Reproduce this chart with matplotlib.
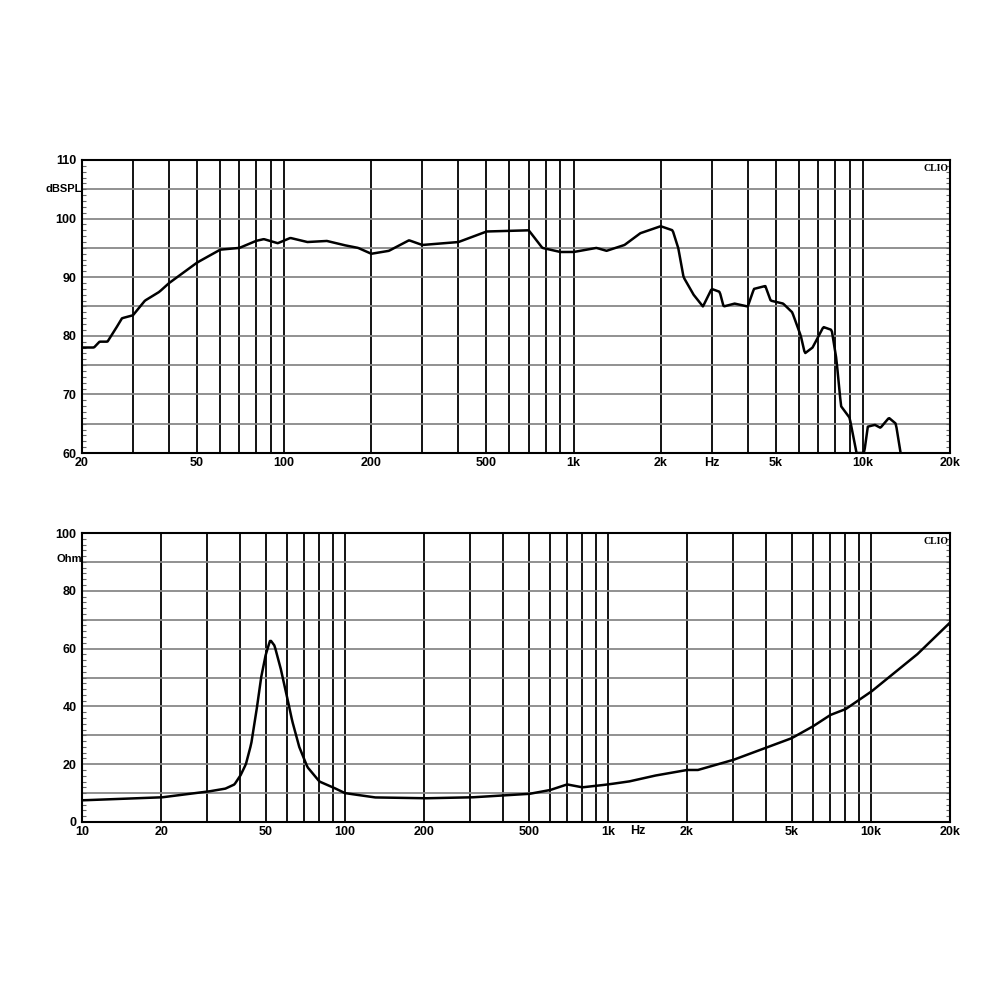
import numpy as np
import matplotlib.pyplot as plt
from matplotlib.ticker import FixedLocator, MultipleLocator

# SPL response (Hz, dB)
spl_f = [20, 22, 23, 24.5, 26, 27.5, 30, 33, 37, 40, 50, 60, 70, 80, 85, 95, 105, 120, 140,
         160, 180, 200, 230, 270, 300, 400, 500, 700, 780, 900, 1000, 1200, 1300, 1500, 1700,
         2000, 2200, 2300, 2400, 2600, 2800, 3000, 3200, 3300, 3600, 4000, 4200, 4600, 4800,
         5000, 5300, 5700, 6100, 6300, 6700, 7300, 7800, 8100, 8400, 9000, 9500, 10100, 10400,
         11000, 11500, 12300, 13000, 13500]
spl_db = [78, 78, 79, 79, 81, 83, 83.5, 86, 87.5, 89, 92.5, 94.7, 95, 96.2, 96.5, 95.8, 96.7,
          96, 96.2, 95.5, 95, 94, 94.5, 96.3, 95.5, 96, 97.8, 98, 95, 94.3, 94.3, 95, 94.5, 95.5,
          97.5, 98.7, 98, 95, 90, 87, 85, 88, 87.5, 85, 85.5, 85, 88, 88.5, 86, 85.8, 85.5, 84,
          80, 77, 78, 81.5, 81, 76, 68, 66, 60, 60, 64.5, 64.8, 64.3, 66, 65, 60]

# Impedance (Hz, Ohm)
imp_f = [10, 20, 30, 35, 38, 40, 42, 44, 46, 48, 50, 52, 54, 57, 60, 63, 67, 72, 80, 90, 100,
         130, 200, 300, 500, 600, 700, 800, 900, 1000, 1200, 1500, 2000, 2200, 3000, 5000,
         6000, 7000, 8000, 10000, 15000, 20000]
imp_ohm = [7.5, 8.5, 10.5, 11.5, 13, 16, 20, 27, 38, 50, 58, 63, 61, 53, 44, 35, 26, 19, 14,
           12, 10, 8.5, 8.2, 8.5, 9.7, 11, 13, 12, 12.5, 13, 14, 16, 18, 18, 21.5, 29, 33, 37,
           39, 45, 58, 69]

top_ticks = [20, 50, 100, 200, 500, 1000, 2000, 5000, 10000, 20000]
top_labels = ['20', '50', '100', '200', '500', '1k', '2k', '5k', '10k', '20k']
bot_ticks = [10, 20, 50, 100, 200, 500, 1000, 2000, 5000, 10000, 20000]
bot_labels = ['10', '20', '50', '100', '200', '500', '1k', '2k', '5k', '10k', '20k']

plt.rcParams['font.family'] = ['Liberation Sans', 'DejaVu Sans']
plt.rcParams['font.weight'] = 'bold'

fig = plt.figure(figsize=(10, 10), dpi=100)


def smooth_curve(f, v):
    lf = np.log10(f)
    x = np.linspace(lf[0], lf[-1], 800)
    return 10 ** x, np.interp(x, lf, v)


def setup(ax, fmin, fmax, ymin, ymax, ymaj, ygrid, unit, ticks, labels, hz_pos):
    ax.set_xscale('log')
    ax.set_xlim(fmin, fmax)
    ax.set_ylim(ymin, ymax)
    dec = [m * 10 ** e for e in range(1, 5) for m in range(1, 10)]
    for d in dec:
        if fmin < d < fmax:
            ax.axvline(d, color='black', lw=1.3, zorder=1)
    for g in np.arange(ymin + ygrid, ymax, ygrid):
        ax.axhline(g, color='#888888', lw=1.3, zorder=1)
    ax.xaxis.set_major_locator(FixedLocator(ticks))
    ax.set_xticklabels(labels, fontsize=9, fontweight='bold')
    ax.xaxis.set_minor_locator(FixedLocator([]))
    ax.tick_params(axis='x', length=0, pad=3)
    ax.yaxis.set_major_locator(MultipleLocator(ymaj))
    ax.yaxis.set_minor_locator(MultipleLocator(ygrid / 5))
    ax.tick_params(axis='y', which='both', direction='in', left=True, right=True,
                   labelsize=9, pad=4)
    ax.tick_params(axis='y', which='major', length=0)
    ax.tick_params(axis='y', which='minor', length=3, width=0.8, color='#666666')
    for lab in ax.get_yticklabels():
        lab.set_fontweight('bold')
    for s in ax.spines.values():
        s.set_linewidth(1.5)
    ax.text(0.0, 0.9 if unit == 'dBSPL' else 0.91, unit, transform=ax.transAxes,
            ha='right', va='center', fontsize=8, fontweight='bold')
    ax.text(hz_pos, -0.012, 'Hz', transform=ax.get_xaxis_transform(), ha='center',
            va='top', fontsize=9, fontweight='bold')
    ax.text(0.998, 0.985, 'CLIO', transform=ax.transAxes, ha='right', va='top',
            fontsize=7, fontweight='bold', family='Liberation Serif')


ax1 = fig.add_axes([0.082, 0.547, 0.868, 0.293])
setup(ax1, 20, 20000, 60, 110, 10, 5, 'dBSPL', top_ticks, top_labels, 3000)
fx, fy = smooth_curve(spl_f, spl_db)
ax1.plot(fx, fy, color='black', lw=1.8, zorder=3, clip_on=True)

ax2 = fig.add_axes([0.082, 0.178, 0.868, 0.289])
setup(ax2, 10, 20000, 0, 100, 20, 10, 'Ohm', bot_ticks, bot_labels, 1300)
ix, iy = smooth_curve(imp_f, imp_ohm)
ax2.plot(ix, iy, color='black', lw=1.8, zorder=3)

fig.savefig('out.png', dpi=100, facecolor='white')
